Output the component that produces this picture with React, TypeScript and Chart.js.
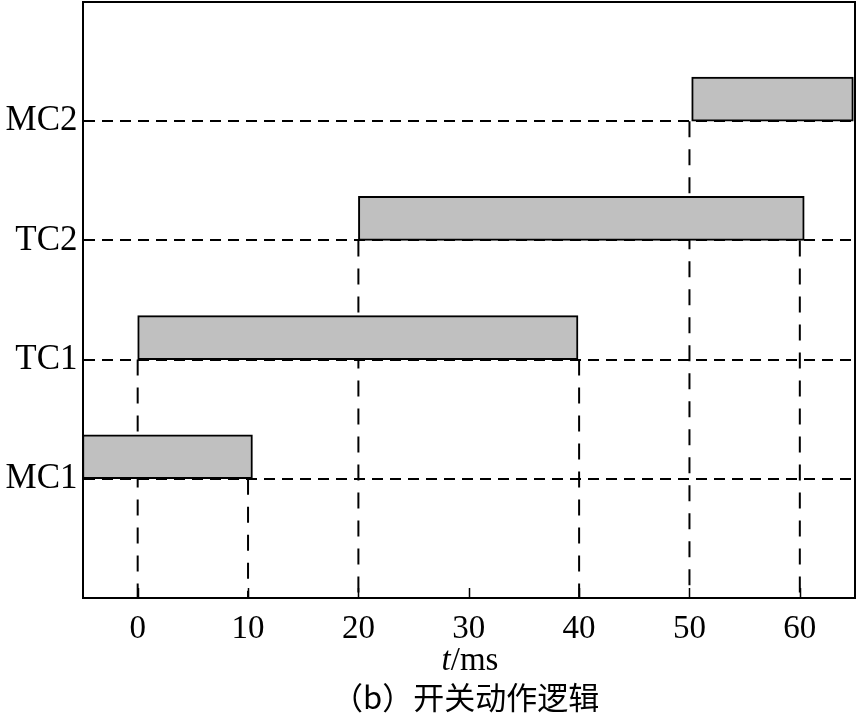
import React, { useEffect, useRef } from 'react';
import { Chart, registerables } from 'chart.js';

Chart.register(...registerables);

// ---- data ----
const categories = ['MC1', 'TC1', 'TC2', 'MC2'];
const levels = [1, 2, 3, 4];
const startTimes = [-5, 0, 20, 50.2];
const endTimes = [10.4, 39.9, 60.4, 64.85];
const barSpan = 0.37; // bar height in level units (bar sits on top of its level line)

// vertical dashed guides: time (ms) and the level they drop from
const guideTimes = [0, 10, 20, 40, 50, 60];
const guideLevels = [2, 1, 3, 2, 4, 3];

const xTickValues = [0, 10, 20, 30, 40, 50, 60];
const xMin = -5;
const xMax = 65;
const yMin = 0;
const yMax = 5;

const SERIF = '"Liberation Serif", "Times New Roman", serif';

const framePlugin = {
  id: 'frameAndTicks',
  afterDatasetsDraw(chart: any) {
    const { ctx, chartArea } = chart;
    const xs = chart.scales.x;
    ctx.save();
    ctx.strokeStyle = '#000';
    ctx.lineWidth = 2;
    ctx.beginPath();
    ctx.moveTo(chartArea.left, chartArea.top);
    ctx.lineTo(chartArea.right, chartArea.top);
    ctx.lineTo(chartArea.right, chartArea.bottom);
    ctx.stroke();
    // inward ticks on bottom axis
    ctx.lineWidth = 1.5;
    ctx.beginPath();
    xTickValues.forEach((v) => {
      const px = Math.round(xs.getPixelForValue(v)) + 0.5;
      ctx.moveTo(px, chartArea.bottom);
      ctx.lineTo(px, chartArea.bottom - 10);
    });
    ctx.stroke();
    ctx.restore();
  },
  afterDraw(chart: any) {
    const { ctx } = chart;
    ctx.save();
    ctx.fillStyle = '#000';
    ctx.textBaseline = 'alphabetic';
    // axis title: t/ms with italic t
    const italic = 'italic 33px ' + SERIF;
    const normal = '33px ' + SERIF;
    ctx.font = italic;
    const wt = ctx.measureText('t').width;
    ctx.font = normal;
    const wr = ctx.measureText('/ms').width;
    const cx = 470;
    const startX = cx - (wt + wr) / 2;
    ctx.font = italic;
    ctx.fillText('t', startX, 670);
    ctx.font = normal;
    ctx.fillText('/ms', startX + wt, 670);
    // caption
    ctx.font = '31px "Noto Sans CJK SC", sans-serif';
    ctx.textBaseline = 'middle';
    ctx.textAlign = 'left';
    ctx.fillText('（b）开关动作逻辑', 332, 697);
    ctx.restore();
  },
};

export default function App() {
  const canvasRef = useRef<HTMLCanvasElement | null>(null);

  useEffect(() => {
    if (!canvasRef.current) return;

    const barData = categories.map((_, i) => ({
      x: [startTimes[i], endTimes[i]],
      y: levels[i] + barSpan / 2,
    }));

    const guideDatasets = guideTimes.map((t, i) => ({
      type: 'line' as const,
      data: [
        { x: t, y: guideLevels[i] },
        { x: t, y: yMin },
      ],
      borderColor: '#000',
      borderWidth: 2,
      borderDash: [16, 12],
      pointRadius: 0,
      fill: false,
      order: 2,
    }));

    const chart = new Chart(canvasRef.current, {
      type: 'bar',
      data: {
        datasets: [
          {
            type: 'bar',
            indexAxis: 'y',
            data: barData as any,
            backgroundColor: '#c0c0c0',
            borderColor: '#000',
            borderWidth: 2,
            borderSkipped: false,
            barThickness: 44,
            order: 1,
          } as any,
          ...(guideDatasets as any),
        ],
      },
      options: {
        animation: false,
        responsive: false,
        maintainAspectRatio: false,
        layout: { padding: { top: 2, right: 6, left: 0, bottom: 0 } },
        plugins: {
          legend: { display: false },
          tooltip: { enabled: false },
        },
        scales: {
          x: {
            type: 'linear',
            min: xMin,
            max: xMax,
            offset: false,
            afterBuildTicks: (s: any) => {
              s.ticks = xTickValues.map((v) => ({ value: v }));
            },
            afterFit: (s: any) => {
              s.height = 117;
              s.paddingLeft = 0;
              s.paddingRight = 0;
            },
            grid: { display: false, drawTicks: false, offset: false },
            border: { display: true, color: '#000', width: 2 },
            ticks: {
              color: '#000',
              padding: 12,
              font: { family: SERIF, size: 33 },
              callback: (v: any) => String(v),
            },
          },
          y: {
            type: 'linear',
            min: yMin,
            max: yMax,
            offset: false,
            afterBuildTicks: (s: any) => {
              s.ticks = levels.map((v) => ({ value: v }));
            },
            afterFit: (s: any) => {
              s.width = 82.5;
              s.paddingTop = 0;
              s.paddingBottom = 0;
            },
            grid: {
              display: true,
              drawTicks: false,
              offset: false,
              color: '#000',
              lineWidth: 2,
            },
            border: { display: true, color: '#000', width: 2, dash: [11, 7] },
            ticks: {
              color: '#000',
              padding: 5,
              font: { family: SERIF, size: 35 },
              callback: (v: any) => categories[levels.indexOf(v)] ?? '',
            },
          },
        },
      },
      plugins: [framePlugin],
    });

    return () => chart.destroy();
  }, []);

  return (
    <div style={{ position: 'absolute', left: 0, top: 0, width: 861, height: 715 }}>
      <canvas ref={canvasRef} width={861} height={715} />
    </div>
  );
}
